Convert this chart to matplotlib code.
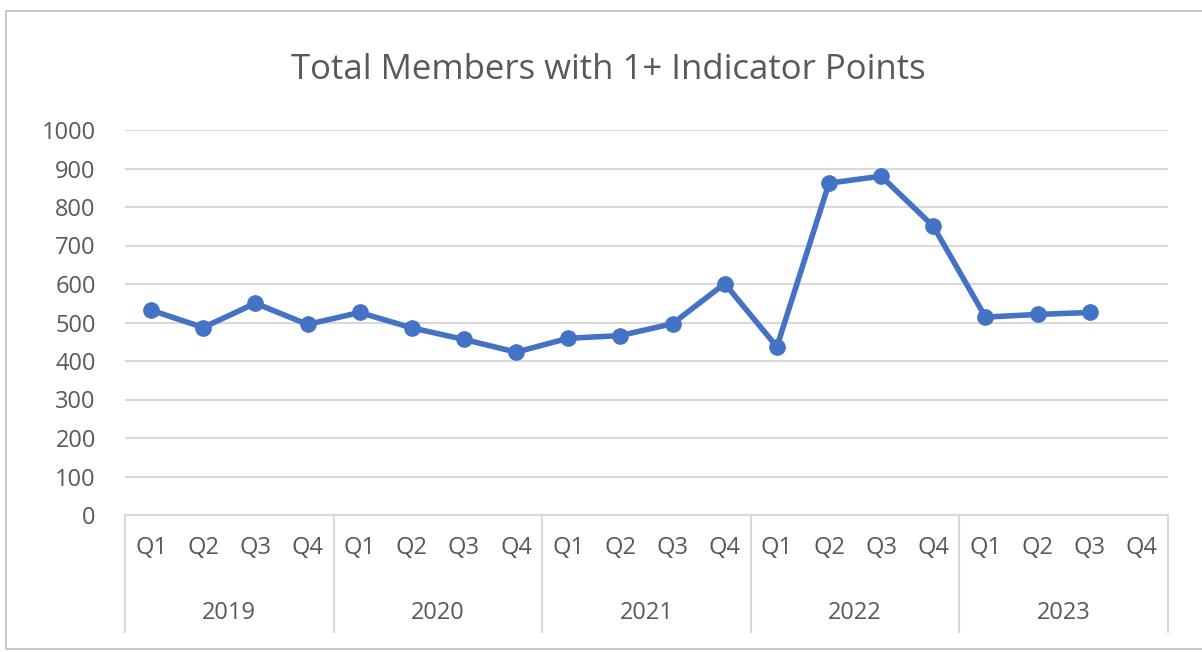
import numpy as np
import matplotlib
matplotlib.use("Agg")
import matplotlib.pyplot as plt
from matplotlib.patches import Rectangle
from matplotlib.lines import Line2D
import matplotlib.transforms as mtransforms

# Chart data
years = ["2019", "2020", "2021", "2022", "2023"]
quarters = ["Q1", "Q2", "Q3", "Q4"]
members = [532, 487, 550, 495,
           526, 486, 456, 423,
           459, 466, 497, 601,
           437, 862, 880, 750,
           514, 521, 526, np.nan]
y_ticks = [0, 100, 200, 300, 400, 500, 600, 700, 800, 900, 1000]

W, H = 1202, 652
text_color = "#595959"
grid_color = "#D9D9D9"
line_color = "#4472C4"

plt.rcParams["font.family"] = ["Open Sans", "DejaVu Sans"]

fig = plt.figure(figsize=(W / 100, H / 100), dpi=100)
fig.patch.set_facecolor("white")

# outer chart frame
fig.patches.append(Rectangle((6 / W, 3 / H), 1.2, (645 - 10) / H + 0.004,
                             transform=fig.transFigure, fill=False,
                             edgecolor="#BFBFBF", linewidth=1.2))

ax = fig.add_axes([125 / W, 1 - 515 / H, (1168 - 125) / W, (515 - 130) / H])

labels = [q for y in years for q in quarters]
x = np.arange(len(labels))

ax.plot(x, members, color=line_color, linewidth=4, marker="o",
        markersize=11, solid_capstyle="round", zorder=3)

ax.set_xlim(-0.5, len(labels) - 0.5)
ax.set_ylim(0, 1000)
ax.set_yticks(y_ticks)
ax.set_yticklabels([str(v) for v in y_ticks])
ax.grid(axis="y", color=grid_color, linewidth=1.5)
ax.set_axisbelow(True)

for side in ["top", "right", "left"]:
    ax.spines[side].set_visible(False)
ax.spines["bottom"].set_color(grid_color)
ax.spines["bottom"].set_linewidth(1.5)

ax.tick_params(axis="y", length=0, pad=21, labelsize=17, labelcolor=text_color)
ax.set_xticks(x)
ax.set_xticklabels(labels)
ax.tick_params(axis="x", length=0, pad=15, labelsize=17, labelcolor=text_color)

# year group labels and separators
trans = mtransforms.blended_transform_factory(ax.transData, ax.transAxes)
for i, yr in enumerate(years):
    ax.text(i * 4 + 1.5, -0.255, yr, transform=trans, ha="center", va="center",
            fontsize=17, color=text_color)
for i in range(len(years) + 1):
    ax.add_line(Line2D([i * 4 - 0.5, i * 4 - 0.5], [0, -0.304], transform=trans,
                       color=grid_color, linewidth=1.5, clip_on=False))

fig.text(608 / W, 1 - 70 / H, "Total Members with 1+ Indicator Points",
         ha="center", va="center", fontsize=25, color=text_color)

fig.savefig("out.png", dpi=100)
